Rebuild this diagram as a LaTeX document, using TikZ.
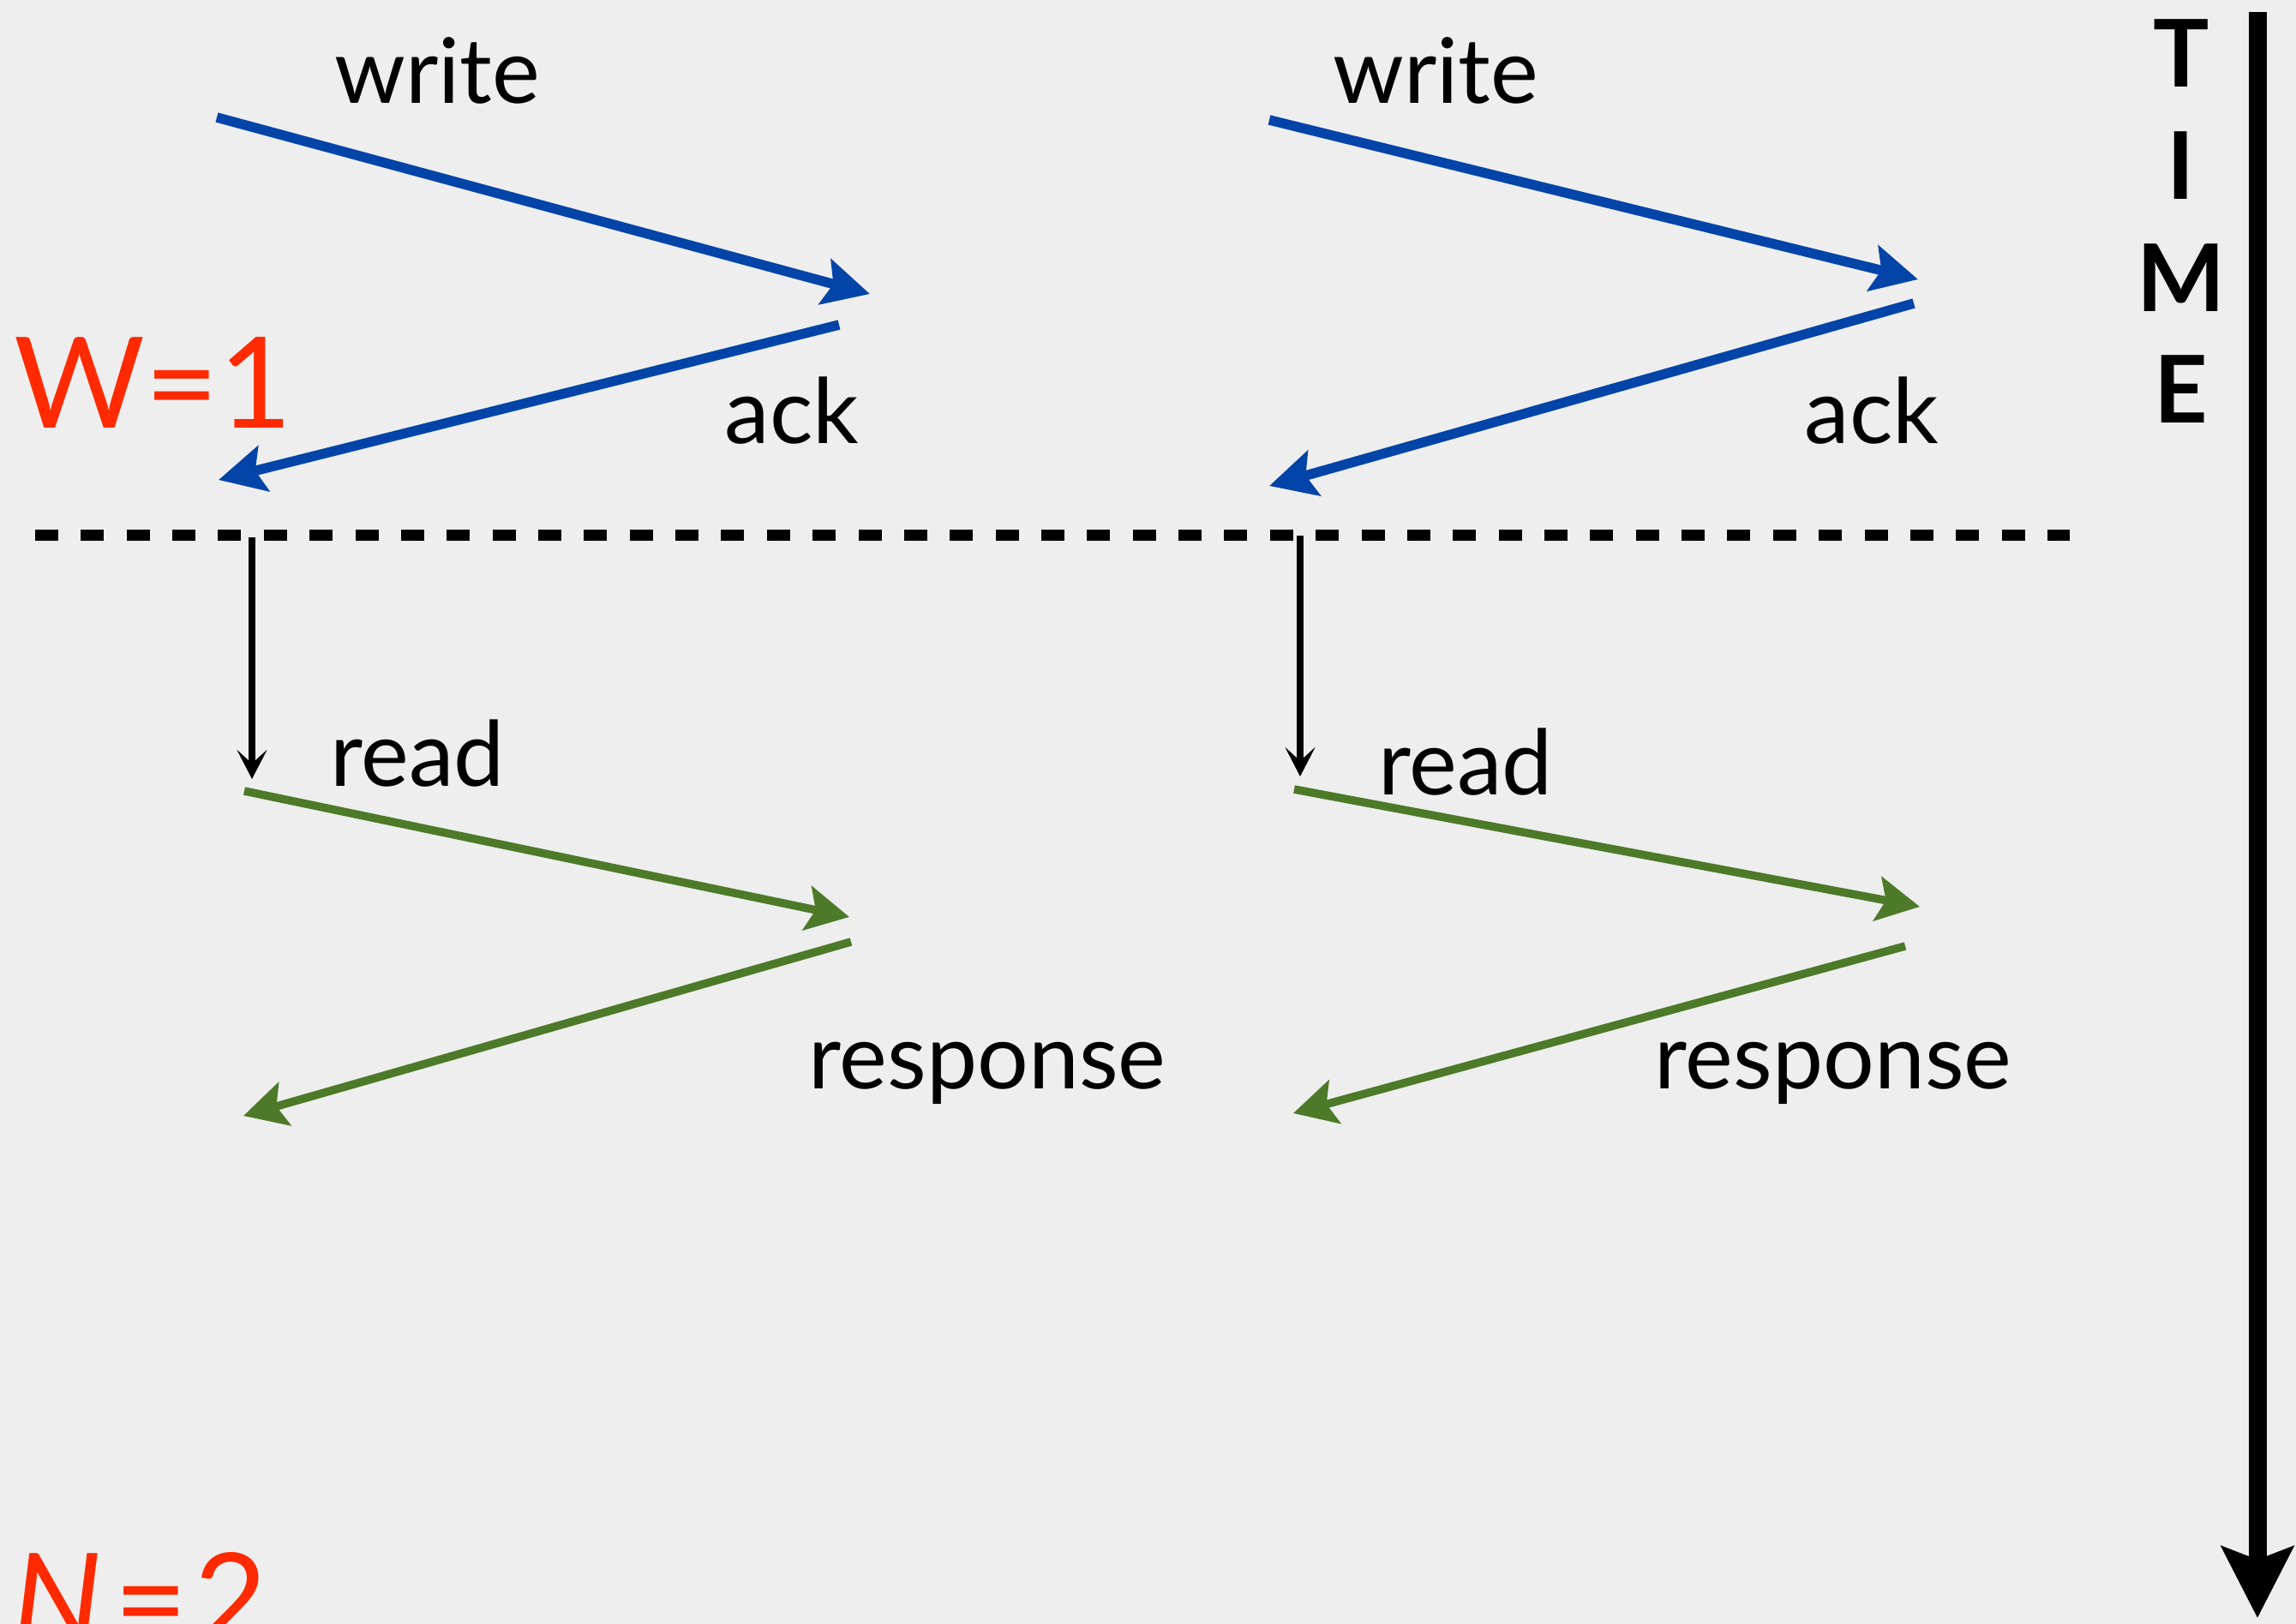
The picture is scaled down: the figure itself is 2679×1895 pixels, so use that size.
\documentclass[tikz,border=0pt]{standalone}
\usepackage{fontspec}
\setmainfont{Lato}
\usepackage{tikz}
\usetikzlibrary{positioning}
\usetikzlibrary{arrows.meta}

\definecolor{bgray}{HTML}{EEEEEE}
\definecolor{wblue}{HTML}{0344A8}
\definecolor{rgreen}{HTML}{4C7A29}
\definecolor{qred}{HTML}{FF2A00}

\tikzstyle{warrow} = [wblue,line width=0.115cm,-{Stealth[length=0.54cm,width=0.54cm,inset=0.1cm]}]
\tikzstyle{rarrow} = [rgreen,line width=0.095cm,-{Stealth[length=0.5cm,width=0.52cm,inset=0.1cm]}]
\tikzstyle{larrow} = [black,line width=0.08cm,-{Stealth[length=0.34cm,width=0.35cm,inset=0.16cm]}]
\tikzstyle{msg} = [inner sep=0pt,anchor=base,font=\fontsize{30}{36}\selectfont]
\tikzstyle{quorum} = [inner sep=0pt,anchor=base west,text=qred,font=\fontsize{42}{50}\selectfont]
\tikzstyle{tletter} = [inner sep=0pt,font=\fontsize{31}{36}\selectfont\bfseries]

\begin{document}
\begin{tikzpicture}[x=0.01cm,y=-0.01cm]
	\useasboundingbox (0,0) rectangle (2679,1895);
	\fill[bgray] (0,0) rectangle (2679,1895);
	\clip (0,0) rectangle (2679,1895);

	%Points
	\coordinate (wA1) at (253,137);   \coordinate (wA2) at (1015,343);
	\coordinate (aA1) at (979,379);   \coordinate (aA2) at (255,560);
	\coordinate (wB1) at (1481,140);  \coordinate (wB2) at (2238,326);
	\coordinate (aB1) at (2233,354);  \coordinate (aB2) at (1481,567);
	\coordinate (lA1) at (294,627);   \coordinate (lA2) at (294,909);
	\coordinate (lB1) at (1517,625);  \coordinate (lB2) at (1517,906);
	\coordinate (rA1) at (285,923);   \coordinate (rA2) at (991,1070);
	\coordinate (sA1) at (993,1099);  \coordinate (sA2) at (284,1302);
	\coordinate (rB1) at (1510,921);  \coordinate (rB2) at (2240,1058);
	\coordinate (sB1) at (2223,1104); \coordinate (sB2) at (1509,1299);
	\coordinate (dL) at (41,625);     \coordinate (dR) at (2415,625);
	\coordinate (tTop) at (2634,14);  \coordinate (tBot) at (2634,1888);

	%Labels
	\node[msg] (writeA) at (510,121) {write};
	\node[msg] (writeB) at (1675,121) {write};
	\node[msg] (ackA) at (924,518) {ack};
	\node[msg] (ackB) at (2184,518) {ack};
	\node[msg] (readA) at (487,917) {read};
	\node[msg] (readB) at (1710,928) {read};
	\node[msg] (respA) at (1152,1270) {response};
	\node[msg] (respB) at (2139,1270) {response};
	\node[quorum] (wq) at (16,500) {W=1};
	\node[quorum] (nq) at (14,1918) {\textit{N}\kern4pt=\kern2pt2};

	%Time axis
	\node[tletter] (tT) at (2545,62) {T};
	\node[tletter] (tI) at (2545,193) {I};
	\node[tletter] (tM) at (2545,324) {M};
	\node[tletter] (tE) at (2545,454) {E};
	\draw[line width=0.21cm,-{Stealth[length=0.83cm,width=0.83cm,inset=0.15cm]}] (tTop) -- (tBot);

	%Lines
	\draw[warrow] (wA1) -- (wA2);
	\draw[warrow] (aA1) -- (aA2);
	\draw[warrow] (wB1) -- (wB2);
	\draw[warrow] (aB1) -- (aB2);
	\draw[line width=0.13cm,dash pattern=on 0.27cm off 0.2633cm] (dL) -- (dR);
	\draw[larrow] (lA1) -- (lA2);
	\draw[larrow] (lB1) -- (lB2);
	\draw[rarrow] (rA1) -- (rA2);
	\draw[rarrow] (sA1) -- (sA2);
	\draw[rarrow] (rB1) -- (rB2);
	\draw[rarrow] (sB1) -- (sB2);
\end{tikzpicture}
\end{document}
